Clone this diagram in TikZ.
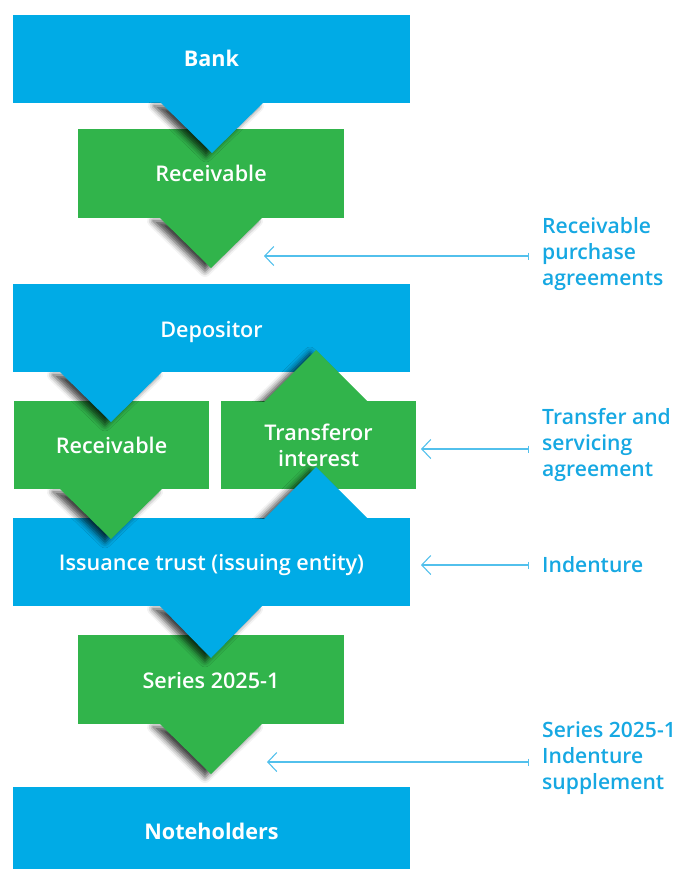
\documentclass[tikz,border=0pt]{standalone}
\usepackage{fontspec}
\setmainfont{Open Sans}
\newfontfamily\semibold{Open Sans Semibold}
\usetikzlibrary{arrows.meta, shadows.blur}
\definecolor{boxblue}{RGB}{0,171,230}
\definecolor{boxgreen}{RGB}{49,180,75}
\definecolor{textblue}{RGB}{22,168,226}
\definecolor{linkblue}{RGB}{82,192,236}

\begin{document}
\begin{tikzpicture}[x=1pt, y=-1pt,
    bluebox/.style={rectangle, fill=boxblue, inner sep=0pt, minimum width=397pt, minimum height=88pt},
    greenbox/.style={rectangle, fill=boxgreen, inner sep=0pt, minimum width=266pt, minimum height=89pt},
    boxtext/.style={text=white, align=center, inner sep=0pt, font=\semibold\fontsize{21.6}{26}\selectfont},
    boldtext/.style={boxtext, font=\bfseries\fontsize{21.6}{26}\selectfont},
    agreement/.style={anchor=west, text=textblue, align=left, inner sep=0pt, font=\semibold\fontsize{21.1}{26}\selectfont},
    pointer/.style={blur shadow={shadow xshift=-6pt, shadow yshift=-3pt, shadow blur radius=6pt, shadow opacity=75}},
    link/.style={draw=linkblue, line width=1.1pt, {Straight Barb[length=9pt, width=19pt]}-{Bar[width=7pt]}}]
\path[use as bounding box, clip] (0, 0) rectangle (677, 869);

% boxes
\node[bluebox] (bank) at (211.5, 59) {};
\node[greenbox] (recvTop) at (211, 173.5) {};
\node[bluebox] (depositor) at (211.5, 328) {};
\node[greenbox, minimum width=195pt, minimum height=88pt] (recvLeft) at (111.5, 445) {};
\node[greenbox, minimum width=195pt, minimum height=88pt] (transferor) at (318.5, 445) {};
\node[bluebox] (trust) at (211.5, 562) {};
\node[greenbox] (series) at (211, 679.5) {};
\node[bluebox, minimum height=90pt] (noteholders) at (211.5, 832) {};

% pointers between the boxes: shadow first, then the point itself
\begin{scope} \clip (0, 103) rectangle (677, 869); \path[pointer] (160, 103) -- (212, 153) -- (264, 103) -- cycle; \end{scope}  % Bank
\fill[boxblue] (160, 102) -- (212, 153) -- (264, 102) -- cycle;
\begin{scope} \clip (0, 218) rectangle (677, 869); \path[pointer] (159, 218) -- (211, 268) -- (263, 218) -- cycle; \end{scope}  % Receivable
\fill[boxgreen] (159, 217) -- (211, 268) -- (263, 217) -- cycle;
\begin{scope} \clip (0, 372) rectangle (677, 869); \path[pointer] (59, 372) -- (111, 422) -- (163, 372) -- cycle; \end{scope}  % Depositor
\fill[boxblue] (59, 371) -- (111, 422) -- (163, 371) -- cycle;
\begin{scope} \clip (0, 0) rectangle (677, 401); \path[pointer] (264, 401) -- (316, 350) -- (368, 401) -- cycle; \end{scope}  % Transferor
\fill[boxgreen] (264, 402) -- (316, 350) -- (368, 402) -- cycle;
\begin{scope} \clip (0, 489) rectangle (677, 869); \path[pointer] (59, 489) -- (111, 539) -- (163, 489) -- cycle; \end{scope}  % Receivable
\fill[boxgreen] (59, 488) -- (111, 539) -- (163, 488) -- cycle;
\begin{scope} \clip (0, 0) rectangle (677, 518); \path[pointer] (264, 518) -- (316, 467) -- (368, 518) -- cycle; \end{scope}  % Trust, up
\fill[boxblue] (264, 519) -- (316, 467) -- (368, 519) -- cycle;
\begin{scope} \clip (0, 606) rectangle (677, 869); \path[pointer] (159, 606) -- (211, 658) -- (263, 606) -- cycle; \end{scope}  % Trust, down
\fill[boxblue] (159, 605) -- (211, 658) -- (263, 605) -- cycle;
\begin{scope} \clip (0, 724) rectangle (677, 869); \path[pointer] (159, 724) -- (211, 774) -- (263, 724) -- cycle; \end{scope}  % Series
\fill[boxgreen] (159, 723) -- (211, 774) -- (263, 723) -- cycle;

% box texts
\node[boldtext, anchor=base] (bankText) at (211.5, 66.5) {Bank};
\node[boxtext, anchor=base] (recvTopText) at (211, 181.5) {Receivable};
\node[boxtext, anchor=base] (depositorText) at (211.5, 337) {Depositor};
\node[boxtext, anchor=base] (recvLeftText) at (111.5, 453) {Receivable};
\node[boxtext] (transferorText) at (318.5, 445) {Transferor\\interest};
\node[boxtext, anchor=base] (trustText) at (211.5, 570) {Issuance trust (issuing entity)};
\node[boxtext, anchor=base] (seriesText) at (211, 688) {Series 2025-1};
\node[boldtext, anchor=base] (noteholdersText) at (211.5, 839) {Noteholders};

% agreements
\node[agreement] (purchase) at (542, 254.4) {Receivable\\purchase\\agreements};
\node[agreement] (servicing) at (542, 445.4) {Transfer and\\servicing\\agreement};
\node[agreement, anchor=base west] (indenture) at (542, 572) {Indenture};
\node[agreement] (supplement) at (542, 757.7) {Series 2025-1\\Indenture\\supplement};
\coordinate (purchaseEnd) at (529, 256);
\coordinate (purchaseTip) at (264, 256);
\coordinate (servicingEnd) at (529, 449);
\coordinate (servicingTip) at (421, 449);
\coordinate (indentureEnd) at (529, 565);
\coordinate (indentureTip) at (421, 565);
\coordinate (supplementEnd) at (529, 762);
\coordinate (supplementTip) at (267, 762);
\draw[link] (purchaseTip) -- (purchaseEnd);
\draw[link] (servicingTip) -- (servicingEnd);
\draw[link] (indentureTip) -- (indentureEnd);
\draw[link] (supplementTip) -- (supplementEnd);

\end{tikzpicture}
\end{document}
